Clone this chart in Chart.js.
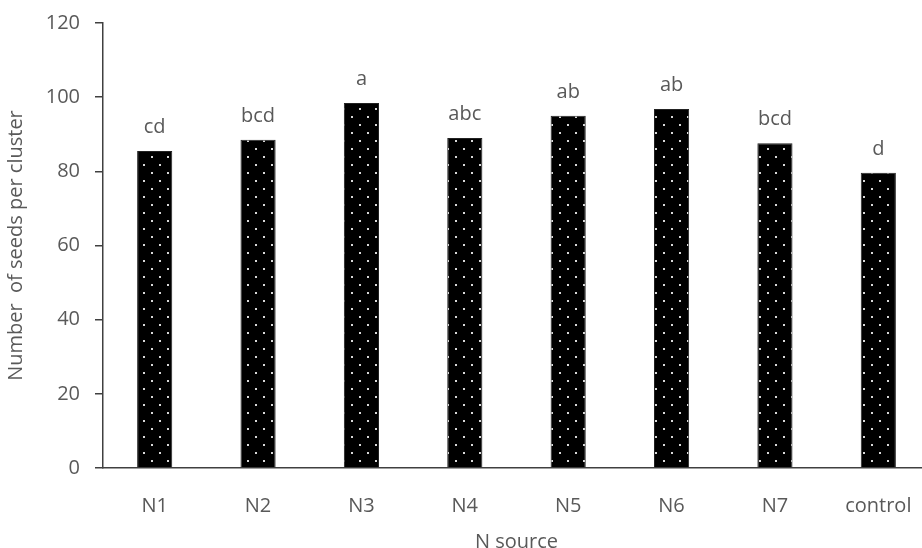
<!DOCTYPE html>
<html>
<head>
<meta charset="utf-8">
<script src="https://cdn.jsdelivr.net/npm/chart.js@4"></script>
<style>
  html, body { margin: 0; padding: 0; overflow: hidden; background: #fff; }
  #wrap { width: 930px; height: 558px; margin-top: -4px; }
</style>
</head>
<body>
<div id="wrap"><canvas id="seedChart" width="930" height="558"></canvas></div>
<script>
// chart data
const categories = ['N1', 'N2', 'N3', 'N4', 'N5', 'N6', 'N7', 'control'];
const seedsPerCluster = [85.5, 88.5, 98.4, 89.0, 95.0, 96.8, 87.6, 79.6];
const letters = ['cd', 'bcd', 'a', 'abc', 'ab', 'ab', 'bcd', 'd'];
const yTicks = [0, 20, 40, 60, 80, 100, 120];

const textColor = '#595959';
const fontFamily = '"Open Sans", "Liberation Sans", sans-serif';

// dotted black fill like the original
function makeDots() {
    const p = document.createElement('canvas');
    p.width = 16;
    p.height = 16;
    const c = p.getContext('2d');
    c.fillStyle = '#000';
    c.fillRect(0, 0, 16, 16);
    c.fillStyle = '#d8d8d8';
    c.fillRect(7, 0, 2, 2);
    c.fillRect(15, 8, 2, 2);
    c.fillRect(-1, 8, 2, 2);
    return c.createPattern(p, 'repeat');
}

// letters above the bars
const letterPlugin = {
    id: 'letters',
    afterDatasetsDraw(chart) {
        const ctx = chart.ctx;
        const meta = chart.getDatasetMeta(0);
        ctx.save();
        ctx.fillStyle = textColor;
        ctx.font = '20px ' + fontFamily;
        ctx.textAlign = 'center';
        ctx.textBaseline = 'alphabetic';
        meta.data.forEach(function (bar, i) {
            ctx.fillText(letters[i], bar.x, bar.y - 18);
        });
        ctx.restore();
    }
};

const ctx = document.getElementById('seedChart').getContext('2d');

new Chart(ctx, {
    type: 'bar',
    data: {
        labels: categories,
        datasets: [{
            label: 'Number of seeds per cluster',
            data: seedsPerCluster,
            backgroundColor: makeDots(),
            borderColor: '#222',
            borderWidth: 1,
            barPercentage: 0.34,
            categoryPercentage: 1
        }]
    },
    options: {
        responsive: false,
        animation: false,
        layout: { padding: { top: 8, left: 4, right: 0, bottom: 0 } },
        plugins: {
            legend: { display: false },
            tooltip: { enabled: false }
        },
        scales: {
            y: {
                min: 0,
                max: 120,
                afterBuildTicks: function (axis) {
                    axis.ticks = yTicks.map(v => ({ value: v }));
                },
                afterFit: function (axis) { axis.width = 99; },
                border: { color: '#404040', width: 1.5 },
                grid: { drawOnChartArea: false, tickLength: 8, color: '#404040', lineWidth: 1.5 },
                ticks: { color: textColor, padding: 15, font: { size: 20, family: fontFamily } },
                title: {
                    display: true,
                    text: 'Number  of seeds per cluster',
                    color: textColor,
                    font: { size: 20, family: fontFamily },
                    padding: { top: 0, bottom: 0 }
                }
            },
            x: {
                afterFit: function (axis) { axis.height = 86; },
                border: { color: '#404040', width: 1.5 },
                grid: { display: false },
                ticks: { color: textColor, padding: 18, font: { size: 20, family: fontFamily } },
                title: {
                    display: true,
                    text: 'N source',
                    color: textColor,
                    font: { size: 20, family: fontFamily },
                    padding: { top: 10, bottom: 0 }
                }
            }
        }
    },
    plugins: [letterPlugin]
});
</script>
</body>
</html>
